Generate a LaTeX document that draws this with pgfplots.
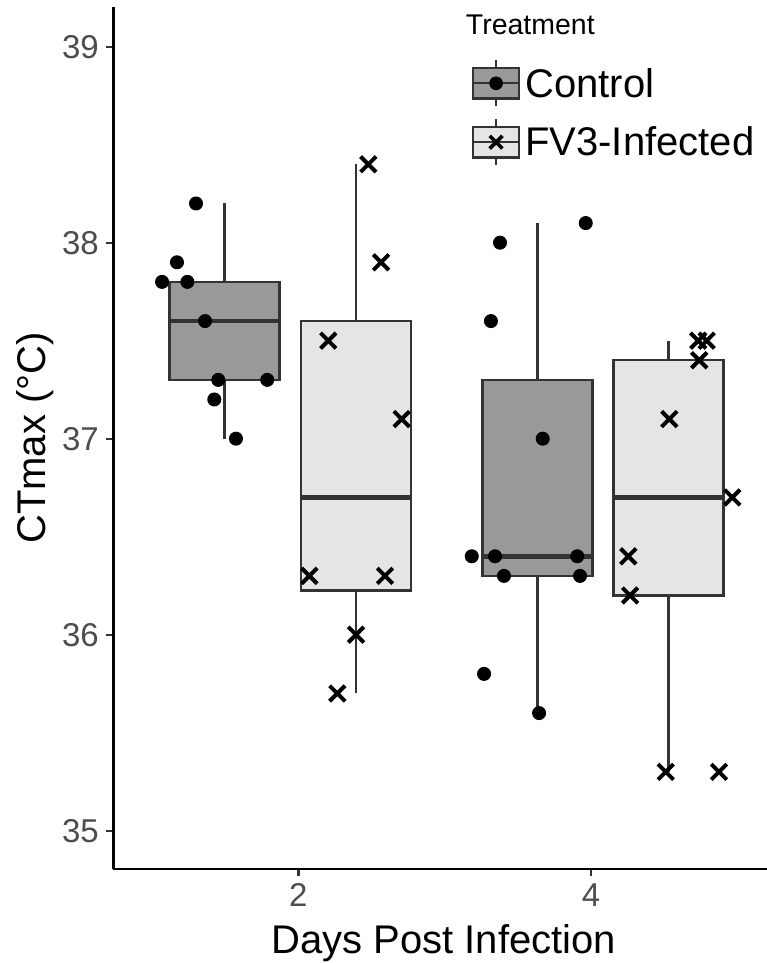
\documentclass[border=0pt]{standalone}
\usepackage{fontspec}
\setmainfont{Liberation Sans}
\usepackage{pgfplots}
\pgfplotsset{compat=1.18}

\definecolor{ctrlfill}{HTML}{999999}
\definecolor{fvfill}{HTML}{E5E5E5}
\definecolor{boxline}{HTML}{333333}
\definecolor{ticktext}{HTML}{4D4D4D}

\pgfplotsset{
  boxbody/.style={forget plot, mark=none, draw=boxline, line width=2.4pt, fill=#1},
  whisk/.style={forget plot, mark=none, draw=boxline, line width=2.4pt},
  med/.style={forget plot, mark=none, draw=boxline, line width=4.6pt},
  ggkey/.style 2 args={
    legend image code/.code={%
      \draw[fill=#1, draw=boxline, line width=2.4pt] (0pt,-15.3pt) rectangle (46pt,15.3pt);
      \draw[boxline, line width=2.4pt] (23pt,-23pt) -- (23pt,-15.3pt)
        (23pt,15.3pt) -- (23pt,23pt) (0pt,0pt) -- (46pt,0pt);
      \draw[black, fill=black, #2] plot coordinates {(23pt,0pt)};
    },
  },
}

\begin{document}
\begin{tikzpicture}
\begin{axis}[
  scale only axis,
  width=653.5pt, height=862.6pt,
  xmin=0.736, xmax=5.203,
  ymin=34.803, ymax=39.204,
  clip=false,
  axis x line*=bottom, axis y line*=left,
  axis line style={line width=2.2pt, black},
  tick align=outside,
  major tick length=7pt,
  tick style={line width=2.2pt, boxline},
  xtick={2,4}, ytick={35,36,37,38,39},
  /pgf/number format/assume math mode=true,
  ticklabel style={font=\fontsize{33pt}{40pt}\selectfont, text=ticktext},
  yticklabel style={inner sep=0pt, xshift=-7.5pt},
  xticklabel style={inner sep=0pt, yshift=-7pt},
  xlabel={Days Post Infection},
  ylabel={CTmax (°C)},
  xlabel style={at={(axis description cs:0.5054,-0.0974)}, anchor=base,
    inner sep=0pt, font=\fontsize{40pt}{48pt}\selectfont},
  ylabel style={at={(axis description cs:-0.1481,0.5)}, anchor=north, rotate=0,
    inner sep=0pt, font=\fontsize{40pt}{48pt}\selectfont},
  legend style={draw=none, fill=none, at={(axis description cs:0.5481,0.9395)},
    anchor=north west, inner sep=0pt, row sep=10.5pt,
    font=\fontsize{40pt}{48pt}\selectfont,
    /tikz/every odd column/.append style={column sep=3pt}},
  legend cell align=left,
]

% Control, day 2
\addplot[whisk] coordinates {(1.4935,37.8) (1.4935,38.2)};
\addplot[whisk] coordinates {(1.4935,37.0) (1.4935,37.3)};
\addplot[boxbody=ctrlfill] coordinates {(1.1175,37.3) (1.8695,37.3) (1.8695,37.8) (1.1175,37.8)} -- cycle;
\addplot[med] coordinates {(1.1175,37.6) (1.8695,37.6)};
% FV3, day 2
\addplot[whisk] coordinates {(2.395,37.6) (2.395,38.4)};
\addplot[whisk] coordinates {(2.395,35.7) (2.395,36.225)};
\addplot[boxbody=fvfill] coordinates {(2.019,36.225) (2.771,36.225) (2.771,37.6) (2.019,37.6)} -- cycle;
\addplot[med] coordinates {(2.019,36.7) (2.771,36.7)};
% Control, day 4
\addplot[whisk] coordinates {(3.633,37.3) (3.633,38.1)};
\addplot[whisk] coordinates {(3.633,35.6) (3.633,36.3)};
\addplot[boxbody=ctrlfill] coordinates {(3.257,36.3) (4.009,36.3) (4.009,37.3) (3.257,37.3)} -- cycle;
\addplot[med] coordinates {(3.257,36.4) (4.009,36.4)};
% FV3, day 4
\addplot[whisk] coordinates {(4.530,37.4) (4.530,37.5)};
\addplot[whisk] coordinates {(4.530,35.3) (4.530,36.2)};
\addplot[boxbody=fvfill] coordinates {(4.154,36.2) (4.906,36.2) (4.906,37.4) (4.154,37.4)} -- cycle;
\addplot[med] coordinates {(4.154,36.7) (4.906,36.7)};

% jittered points
\addplot[only marks, mark=*, mark size=6.5pt, draw=black, fill=black, line width=1pt,
  ggkey={ctrlfill}{mark=*, mark size=6.3pt, line width=1pt}] coordinates {
  (1.300,38.2) (1.170,37.9) (1.068,37.8) (1.241,37.8) (1.362,37.6)
  (1.452,37.3) (1.787,37.3) (1.425,37.2) (1.573,37.0)
  (3.964,38.1) (3.378,38.0) (3.316,37.6) (3.670,37.0) (3.185,36.4)
  (3.344,36.4) (3.906,36.4) (3.405,36.3) (3.925,36.3) (3.269,35.8)
  (3.645,35.6)
};
\addlegendentry{Control}
\addplot[only marks, mark=x, mark size=11pt, draw=black, line width=4pt,
  ggkey={fvfill}{mark=x, mark size=9pt, line width=3.6pt}] coordinates {
  (2.478,38.4) (2.565,37.9) (2.204,37.5) (2.706,37.1) (2.075,36.3)
  (2.592,36.3) (2.394,36.0) (2.266,35.7)
  (4.733,37.5) (4.791,37.5) (4.740,37.4) (4.535,37.1) (4.966,36.7)
  (4.255,36.4) (4.267,36.2) (4.511,35.3) (4.875,35.3)
};
\addlegendentry{FV3-Infected}

\node[anchor=base west, inner sep=0pt, font=\fontsize{28.5pt}{34pt}\selectfont]
  at (axis description cs:0.5390,0.9672) {Treatment};
\end{axis}
\pgfresetboundingbox
\path[use as bounding box] ([shift={(-113.5pt,-93.7pt)}]current axis.south west)
  rectangle ++(767pt,963pt);
\end{tikzpicture}
\end{document}
